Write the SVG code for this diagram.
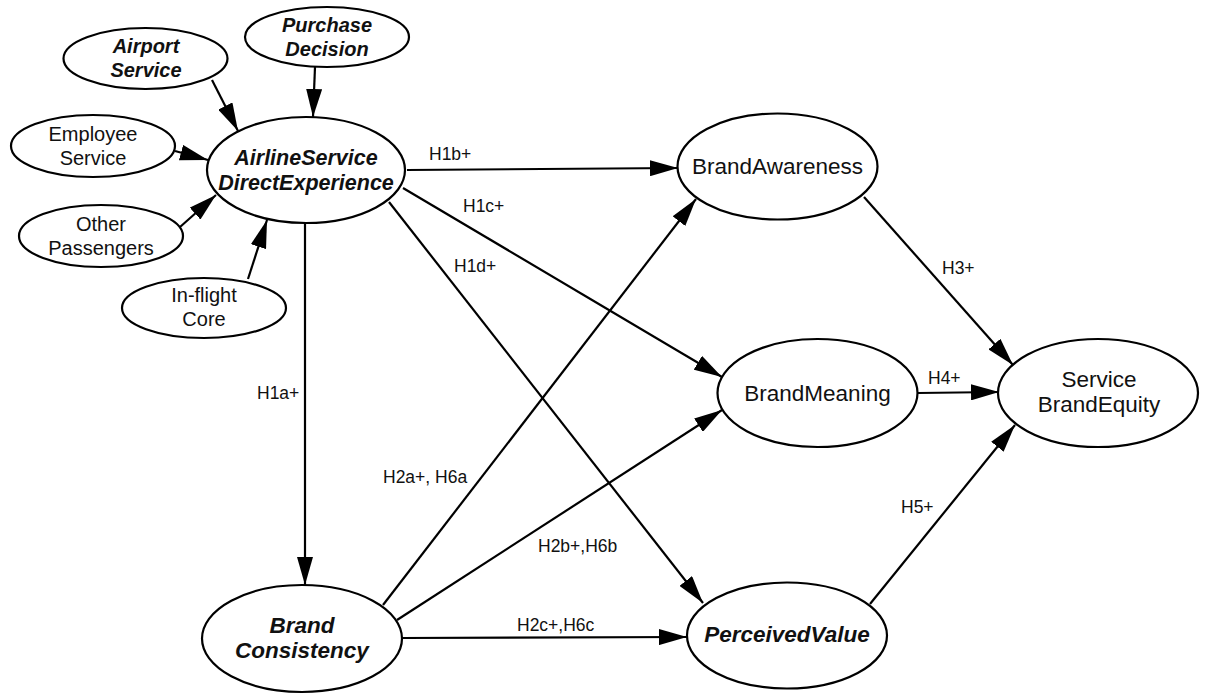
<svg xmlns="http://www.w3.org/2000/svg" width="1205" height="695" viewBox="0 0 1205 695">
  <style>
    .node ellipse { fill: #ffffff; stroke: #000000; stroke-width: 2.2; }
    .node text { font-family: "Liberation Sans", Arial, sans-serif; fill: #111111; text-anchor: middle; }
    .sm text { font-size: 20px; }
    .lg text { font-size: 22.5px; }
    .bi text { font-weight: bold; font-style: italic; }
    .edges line { stroke: #000000; stroke-width: 2.2; fill: none; }
    .lbl { font-family: "Liberation Sans", Arial, sans-serif; font-size: 17.5px; fill: #111111; }
  </style>
  <defs>
    <marker id="arrow" markerUnits="userSpaceOnUse" markerWidth="28" markerHeight="16" refX="28" refY="8" orient="auto">
      <path d="M0,0 L28,8 L0,16 Z" fill="#000000"/>
    </marker>
  </defs>

  <rect width="1205" height="695" fill="#ffffff"/>

  <!-- connectors -->
  <g class="edges" id="connectors">
    <line x1="212" y1="80" x2="238" y2="131" marker-end="url(#arrow)"/>
    <line x1="315" y1="67" x2="313" y2="117" marker-end="url(#arrow)"/>
    <line x1="175" y1="151" x2="208" y2="160" marker-end="url(#arrow)"/>
    <line x1="180" y1="227" x2="216" y2="195" marker-end="url(#arrow)"/>
    <line x1="248" y1="279" x2="267" y2="220" marker-end="url(#arrow)"/>

    <line x1="305" y1="223" x2="305" y2="585" marker-end="url(#arrow)"/>
    <line x1="407" y1="170" x2="678" y2="168" marker-end="url(#arrow)"/>
    <line x1="403" y1="188" x2="722" y2="377" marker-end="url(#arrow)"/>
    <line x1="389" y1="202" x2="703" y2="603" marker-end="url(#arrow)"/>

    <line x1="383" y1="605" x2="696" y2="199" marker-end="url(#arrow)"/>
    <line x1="397" y1="620" x2="722" y2="410" marker-end="url(#arrow)"/>
    <line x1="402" y1="638" x2="687" y2="637" marker-end="url(#arrow)"/>

    <line x1="864" y1="197" x2="1013" y2="365" marker-end="url(#arrow)"/>
    <line x1="918" y1="393" x2="999" y2="392" marker-end="url(#arrow)"/>
    <line x1="870" y1="604" x2="1015" y2="425" marker-end="url(#arrow)"/>

    <text class="lbl" x="429" y="160">H1b+</text>
    <text class="lbl" x="463" y="212">H1c+</text>
    <text class="lbl" x="454" y="272">H1d+</text>
    <text class="lbl" x="257" y="399">H1a+</text>
    <text class="lbl" x="383" y="483">H2a+, H6a</text>
    <text class="lbl" x="538" y="552">H2b+,H6b</text>
    <text class="lbl" x="517" y="631">H2c+,H6c</text>
    <text class="lbl" x="942" y="274">H3+</text>
    <text class="lbl" x="928" y="384">H4+</text>
    <text class="lbl" x="901" y="513">H5+</text>
  </g>

  <!-- antecedent constructs -->
  <g id="purchase-decision" class="node sm bi">
    <ellipse cx="327" cy="37" rx="82" ry="30"/>
    <text x="327" y="32">Purchase</text>
    <text x="327" y="56">Decision</text>
  </g>
  <g id="airport-service" class="node sm bi">
    <ellipse cx="145.5" cy="58.5" rx="82" ry="30.5"/>
    <text x="146" y="53">Airport</text>
    <text x="146" y="77">Service</text>
  </g>
  <g id="employee-service" class="node sm">
    <ellipse cx="93" cy="146" rx="82" ry="31"/>
    <text x="93" y="141">Employee</text>
    <text x="93" y="165">Service</text>
  </g>
  <g id="other-passengers" class="node sm">
    <ellipse cx="101" cy="236" rx="82" ry="31"/>
    <text x="101" y="231">Other</text>
    <text x="101" y="255">Passengers</text>
  </g>
  <g id="inflight-core" class="node sm">
    <ellipse cx="204" cy="308" rx="82" ry="30"/>
    <text x="204" y="302">In-flight</text>
    <text x="204" y="326">Core</text>
  </g>

  <!-- core constructs -->
  <g id="airline-service-direct-experience" class="node lg bi">
    <ellipse cx="306" cy="170" rx="99" ry="53"/>
    <text x="306" y="165" style="font-size:21.5px">AirlineService</text>
    <text x="306" y="190" style="font-size:21.5px">DirectExperience</text>
  </g>
  <g id="brand-consistency" class="node lg bi">
    <ellipse cx="302" cy="638.5" rx="100" ry="53.5"/>
    <text x="302" y="633">Brand</text>
    <text x="302" y="658">Consistency</text>
  </g>
  <g id="brand-awareness" class="node lg">
    <ellipse cx="777.5" cy="166.5" rx="100" ry="53"/>
    <text x="777.5" y="174">BrandAwareness</text>
  </g>
  <g id="brand-meaning" class="node lg">
    <ellipse cx="817.5" cy="393" rx="100" ry="54"/>
    <text x="817.5" y="401">BrandMeaning</text>
  </g>
  <g id="perceived-value" class="node lg bi">
    <ellipse cx="787" cy="635.5" rx="100" ry="53"/>
    <text x="787" y="642">PerceivedValue</text>
  </g>
  <g id="service-brand-equity" class="node lg">
    <ellipse cx="1098" cy="393" rx="100" ry="54"/>
    <text x="1099" y="387">Service</text>
    <text x="1099" y="412">BrandEquity</text>
  </g>
</svg>
